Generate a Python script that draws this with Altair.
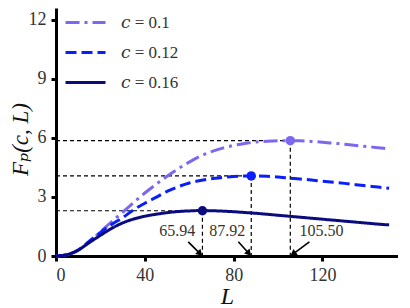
import math
import altair as alt
import pandas as pd

# ---- data ----
L_vals = [0, 5, 10, 15, 20, 25, 30, 35, 40, 45, 50, 55, 60, 65, 70, 75, 80, 85,
          90, 95, 100, 105, 110, 115, 120, 125, 130, 135, 140, 145, 150]
F_c010 = [0, 0.07, 0.3, 0.72, 1.22, 1.74, 2.22, 2.72, 3.2, 3.64, 4.05, 4.43, 4.77,
          5.07, 5.3, 5.48, 5.62, 5.72, 5.79, 5.83, 5.855, 5.86, 5.85, 5.82, 5.78,
          5.73, 5.68, 5.62, 5.56, 5.5, 5.44]
F_c012 = [0, 0.07, 0.3, 0.75, 1.2, 1.6, 1.95, 2.35, 2.68, 2.98, 3.28, 3.52, 3.71,
          3.84, 3.93, 3.99, 4.04, 4.065, 4.07, 4.05, 4.01, 3.96, 3.91, 3.86, 3.8,
          3.75, 3.69, 3.62, 3.56, 3.5, 3.44]
F_c016 = [0, 0.07, 0.3, 0.68, 1.05, 1.4, 1.68, 1.88, 2.02, 2.12, 2.2, 2.26, 2.29,
          2.31, 2.3, 2.28, 2.25, 2.21, 2.17, 2.12, 2.07, 2.02, 1.97, 1.92, 1.87,
          1.82, 1.77, 1.72, 1.67, 1.62, 1.58]

series = ["𝑐 = 0.1", "𝑐 = 0.12", "𝑐 = 0.16"]
colors = ["#7B68EE", "#0A1EFA", "#0B0B80"]
dashes = [[14, 5, 3, 5], [11, 5], [1, 0]]

peak_L = [105.50, 87.92, 65.94]
peak_F = [5.86, 4.07, 2.30]
peak_text = ["105.50", "87.92", "65.94"]
# annotation offsets (data units) of arrow tails and label centres from the peak L
tail_dL = [8.6, -5.8, -6.4]
text_dL = [14.0, -10.8, -11.3]

FONT = "Liberation Serif, Times New Roman, Times, DejaVu Serif, serif"

# ---- layout ----
W, H = 342, 248
XMAX, YMAX = 154, 12.6
px_x = W / XMAX
px_y = H / YMAX
tail_F = 0.72
text_F = 1.27

rows = []
for s, F in zip(series, [F_c010, F_c012, F_c016]):
    for l, f in zip(L_vals, F):
        rows.append({"L": l, "F": f, "series": s})
df = pd.DataFrame(rows)

pk = []
for s, l, f, t, tdl, xdl in zip(series, peak_L, peak_F, peak_text, tail_dL, text_dL):
    dx = -tdl * px_x
    dy = tail_F * px_y
    n = math.hypot(dx, dy)
    ux, uy = dx / n, dy / n
    ang = math.degrees(math.atan2(ux, -uy)) % 360
    pk.append({"series": s, "L": l, "F": f, "zero": 0.0, "label": t,
               "Lt": l + tdl, "Ft": tail_F, "Lx": l + xdl, "Fx": text_F,
               "La": l - 4.5 * ux / px_x, "Fa": 4.5 * uy / px_y, "ang": ang})
dp = pd.DataFrame(pk)

xs = alt.Scale(domain=[0, XMAX], nice=False, zero=False)
ys = alt.Scale(domain=[0, YMAX], nice=False)
cs = alt.Scale(domain=series, range=colors)
ds = alt.Scale(domain=series, range=dashes)

leg = alt.Legend(title=None, orient="none", legendX=8, legendY=-7,
                 symbolType="stroke", symbolSize=1600, symbolStrokeWidth=3,
                 labelFont=FONT, labelFontSize=17,
                 labelColor="#333333", labelOffset=14, rowPadding=-1.5)

xax = alt.Axis(values=[0, 40, 80, 120], title="L", titleFontStyle="italic",
               titleFontSize=24, titleFont=FONT, titleFontWeight="normal",
               titleY=28, titleColor="#111111")
yax = alt.Axis(values=[0, 3, 6, 9, 12], title="Fₚ(c, L)", titleFontStyle="italic",
               titleFontSize=23, titleFont=FONT, titleFontWeight="normal",
               titleX=-24, titleY=131, titleColor="#111111")

base_p = alt.Chart(dp)

hrule = base_p.mark_rule(color="black", strokeWidth=1.2, strokeDash=[4, 3]).encode(
    x=alt.X("zero:Q", scale=xs, axis=xax), x2="L:Q",
    y=alt.Y("F:Q", scale=ys, axis=yax))
vrule = base_p.mark_rule(color="black", strokeWidth=1.2, strokeDash=[4, 3]).encode(
    x=alt.X("L:Q", scale=xs), y=alt.Y("F:Q", scale=ys), y2="zero:Q")

lines = alt.Chart(df).mark_line(strokeWidth=3, interpolate="monotone").encode(
    x=alt.X("L:Q", scale=xs, axis=xax),
    y=alt.Y("F:Q", scale=ys, axis=yax),
    color=alt.Color("series:N", scale=cs, legend=leg),
    strokeDash=alt.StrokeDash("series:N", scale=ds, legend=leg),
    order=alt.Order("L:Q"))

dots = base_p.mark_circle(size=90, opacity=1).encode(
    x=alt.X("L:Q", scale=xs), y=alt.Y("F:Q", scale=ys),
    color=alt.Color("series:N", scale=cs, legend=None))

arrows = base_p.mark_rule(color="black", strokeWidth=1.6).encode(
    x=alt.X("Lt:Q", scale=xs), y=alt.Y("Ft:Q", scale=ys),
    x2="La:Q", y2="Fa:Q")
heads = base_p.mark_point(shape="triangle", filled=True, size=55, color="black",
                          opacity=1).encode(
    x=alt.X("La:Q", scale=xs), y=alt.Y("Fa:Q", scale=ys),
    angle=alt.Angle("ang:Q", scale=None))
labels = base_p.mark_text(font=FONT, fontSize=16, color="#333333").encode(
    x=alt.X("Lx:Q", scale=xs), y=alt.Y("Fx:Q", scale=ys), text="label:N")

chart = alt.layer(hrule, vrule, lines, dots, arrows, heads, labels).properties(
    width=W, height=H,
    autosize=alt.AutoSizeParams(type="none"),
    padding={"left": 48, "top": 0, "right": 0, "bottom": 52},
).configure_view(stroke=None).configure_axis(
    grid=False, domainColor="black", domainWidth=3, tickColor="black",
    tickWidth=3, tickSize=5, labelFont=FONT, labelFontSize=18,
    labelColor="#333333", labelPadding=5,
)

chart.save("out.html", embed_options={"renderer": "svg", "actions": False})
